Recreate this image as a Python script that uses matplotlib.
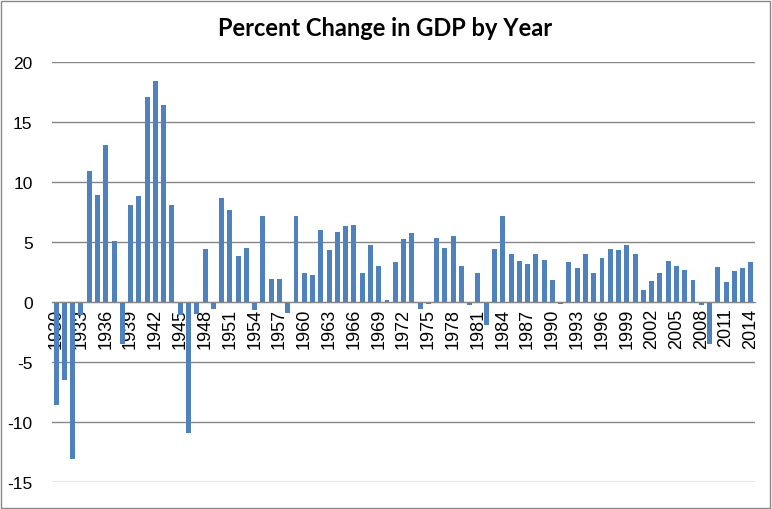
import matplotlib.pyplot as plt
from matplotlib.patches import Rectangle

years = list(range(1930, 2015))
pct_change = [
    -8.6, -6.5, -13.1, -1.1, 10.9, 8.9, 13.1, 5.1, -3.5, 8.1,
    8.8, 17.1, 18.4, 16.4, 8.1, -1.1, -10.9, -1.0, 4.4, -0.55,
    8.7, 7.7, 3.8, 4.5, -0.64, 7.2, 1.94, 1.94, -0.94, 7.2,
    2.44, 2.28, 6.0, 4.36, 5.8, 6.36, 6.44, 2.44, 4.78, 3.03,
    0.2, 3.36, 5.28, 5.78, -0.6, -0.2, 5.36, 4.53, 5.53, 3.03,
    -0.28, 2.44, -1.94, 4.44, 7.2, 4.03, 3.44, 3.19, 4.03, 3.53,
    1.86, -0.2, 3.36, 2.86, 4.03, 2.44, 3.69, 4.44, 4.36, 4.78,
    4.03, 1.03, 1.78, 2.44, 3.44, 3.03, 2.69, 1.86, -0.28, -3.5,
    2.94, 1.69, 2.6, 2.86, 3.36,
]
y_ticks = [-15, -10, -5, 0, 5, 10, 15, 20]

fig = plt.figure(figsize=(7.72, 5.10), dpi=100)
ax = fig.add_axes([0.0674, 0.0529, 0.9106, 0.8235])

# move the x axis to zero first, it resets the tick labels
for side in ['left', 'right', 'top']:
    ax.spines[side].set_visible(False)
ax.spines['bottom'].set_position(('data', 0))
ax.spines['bottom'].set_color('#868686')
ax.spines['bottom'].set_zorder(4)

x = list(range(len(years)))
ax.bar(x, pct_change, width=0.6, color='#4F81BD', zorder=3)

ax.set_xlim(-0.5, len(years) - 0.5)
ax.set_ylim(-15, 20)
ax.set_yticks(y_ticks)
ax.set_yticklabels(y_ticks, fontsize=12.5, family='Liberation Sans')
ax.yaxis.grid(True, color='#868686', linewidth=1, zorder=0)

ax.set_xticks(x[::3])
ax.set_xticklabels(years[::3], rotation=90, fontsize=13, family='Liberation Sans')
ax.tick_params(axis='y', length=0, pad=14)
ax.tick_params(axis='x', length=0, pad=4)

fig.text(0.499, 0.944, 'Percent Change in GDP by Year', ha='center', va='center',
         fontsize=17, fontweight='bold', family='Lato')

# chart border
fig.patches.append(Rectangle((0.001, 0.001), 0.997, 0.996, transform=fig.transFigure,
                             fill=False, edgecolor='#888888', linewidth=1))

fig.savefig('out.png', dpi=100)
